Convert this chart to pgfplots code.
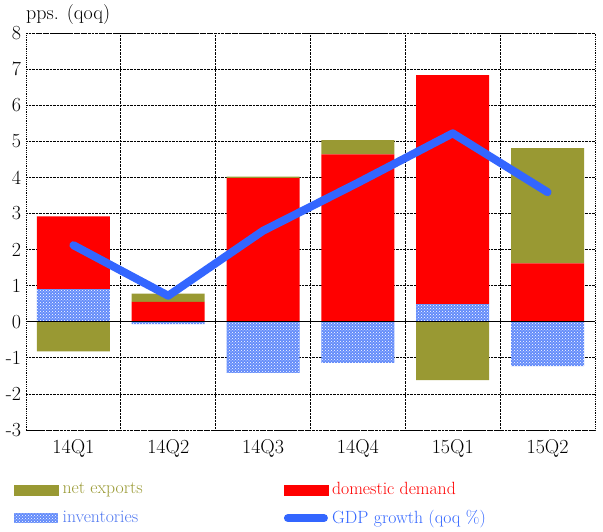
\documentclass[border=0pt]{standalone}
\usepackage{fontspec}
\usepackage{pgfplots}
\pgfplotsset{compat=1.18}
\usetikzlibrary{patterns}
\definecolor{nxcol}{RGB}{153,153,51}
\definecolor{ddcol}{RGB}{255,0,0}
\definecolor{invcol}{RGB}{100,140,250}
\definecolor{invtxt}{RGB}{80,120,240}
\definecolor{gdpcol}{RGB}{51,102,255}
\pgfplotsset{base/.style={
  at={(0,0)}, anchor=south west, scale only axis, width=569pt, height=397pt,
  xmin=-0.5, xmax=5.5, ymin=-3, ymax=8,
}}
\tikzset{invfill/.style={fill=invcol, postaction={pattern=crosshatch dots, pattern color=white}}}
\begin{document}
\fontsize{20}{24}\selectfont%
\begin{tikzpicture}
% axis 1: frame, grid, positive stack
\begin{axis}[base, ybar stacked, bar width=73pt,
  xtick={0,...,5}, xticklabels={14Q1,14Q2,14Q3,14Q4,15Q1,15Q2},
  minor xtick={0.5,1.5,...,4.5},
  ytick={-3,...,8},
  ymajorgrids, xminorgrids, xmajorgrids=false,
  major grid style={densely dotted, black, line width=0.8pt},
  minor grid style={densely dotted, black, line width=0.8pt},
  axis line style={densely dotted, black, line width=0.8pt},
  tick style={draw=none},
  /pgf/number format/assume math mode=true,
  yticklabel style={xshift=2pt},
  xticklabel style={yshift=-3pt},
  clip=false,
]
\addplot[draw=none, invfill] coordinates {(0,0.9) (1,0) (2,0) (3,0) (4,0.49) (5,0)};
\addplot[draw=none, fill=ddcol] coordinates {(0,2.02) (1,0.55) (2,3.98) (3,4.64) (4,6.34) (5,1.62)};
\addplot[draw=none, fill=nxcol] coordinates {(0,0) (1,0.23) (2,0.04) (3,0.39) (4,0) (5,3.19)};
\node[anchor=south west, inner sep=0pt] at (rel axis cs:0,1) [yshift=8pt] {pps. (qoq)};
\end{axis}
% axis 2: negative stack
\begin{axis}[base, ybar stacked, bar width=73pt, hide axis]
\addplot[draw=none, invfill] coordinates {(0,0) (1,-0.07) (2,-1.42) (3,-1.14) (4,0) (5,-1.23)};
\addplot[draw=none, fill=nxcol] coordinates {(0,-0.82) (1,0) (2,0) (3,0) (4,-1.62) (5,0)};
\end{axis}
% axis 3: zero line, GDP line, legend
\begin{axis}[base, hide axis, clip=false,
  legend columns=2, legend cell align=left,
  legend style={at={(0,0)}, anchor=north west, xshift=-12pt, yshift=-50pt,
    draw=none, fill=none, inner sep=0pt, row sep=8.5pt,
    font=\fontsize{17.7}{21}\selectfont,
    /tikz/every odd column/.append style={column sep=2pt},
    /tikz/column 2/.style={column sep=139pt}},
]
\draw[black, line width=1pt] (axis cs:-0.5,0) -- (axis cs:5.5,0);
\addplot[gdpcol, line width=8pt, line cap=round, line join=round, forget plot] coordinates {(0,2.12) (1,0.72) (2,2.52) (3,3.85) (4,5.22) (5,3.59)};
\addlegendimage{legend image code/.code={\fill[nxcol] (0pt,-5pt) rectangle (44pt,5pt);}}
\addlegendentry{\textcolor{nxcol}{net exports}}
\addlegendimage{legend image code/.code={\fill[ddcol] (0pt,-5pt) rectangle (44pt,5pt);}}
\addlegendentry{\textcolor{ddcol}{domestic demand}}
\addlegendimage{legend image code/.code={\fill[invcol, draw=none] (0pt,-5pt) rectangle (44pt,5pt); \fill[draw=none, pattern=crosshatch dots, pattern color=white] (0pt,-5pt) rectangle (44pt,5pt);}}
\addlegendentry{\textcolor{invtxt}{inventories}}
\addlegendimage{legend image code/.code={\draw[gdpcol, line width=8pt, line cap=round] (4pt,0pt) -- (40pt,0pt);}}
\addlegendentry{\textcolor{gdpcol}{GDP growth (qoq \%)}}
\end{axis}
\pgfresetboundingbox
\useasboundingbox (-26pt,-102pt) rectangle (577pt,430pt);
\end{tikzpicture}
\end{document}
